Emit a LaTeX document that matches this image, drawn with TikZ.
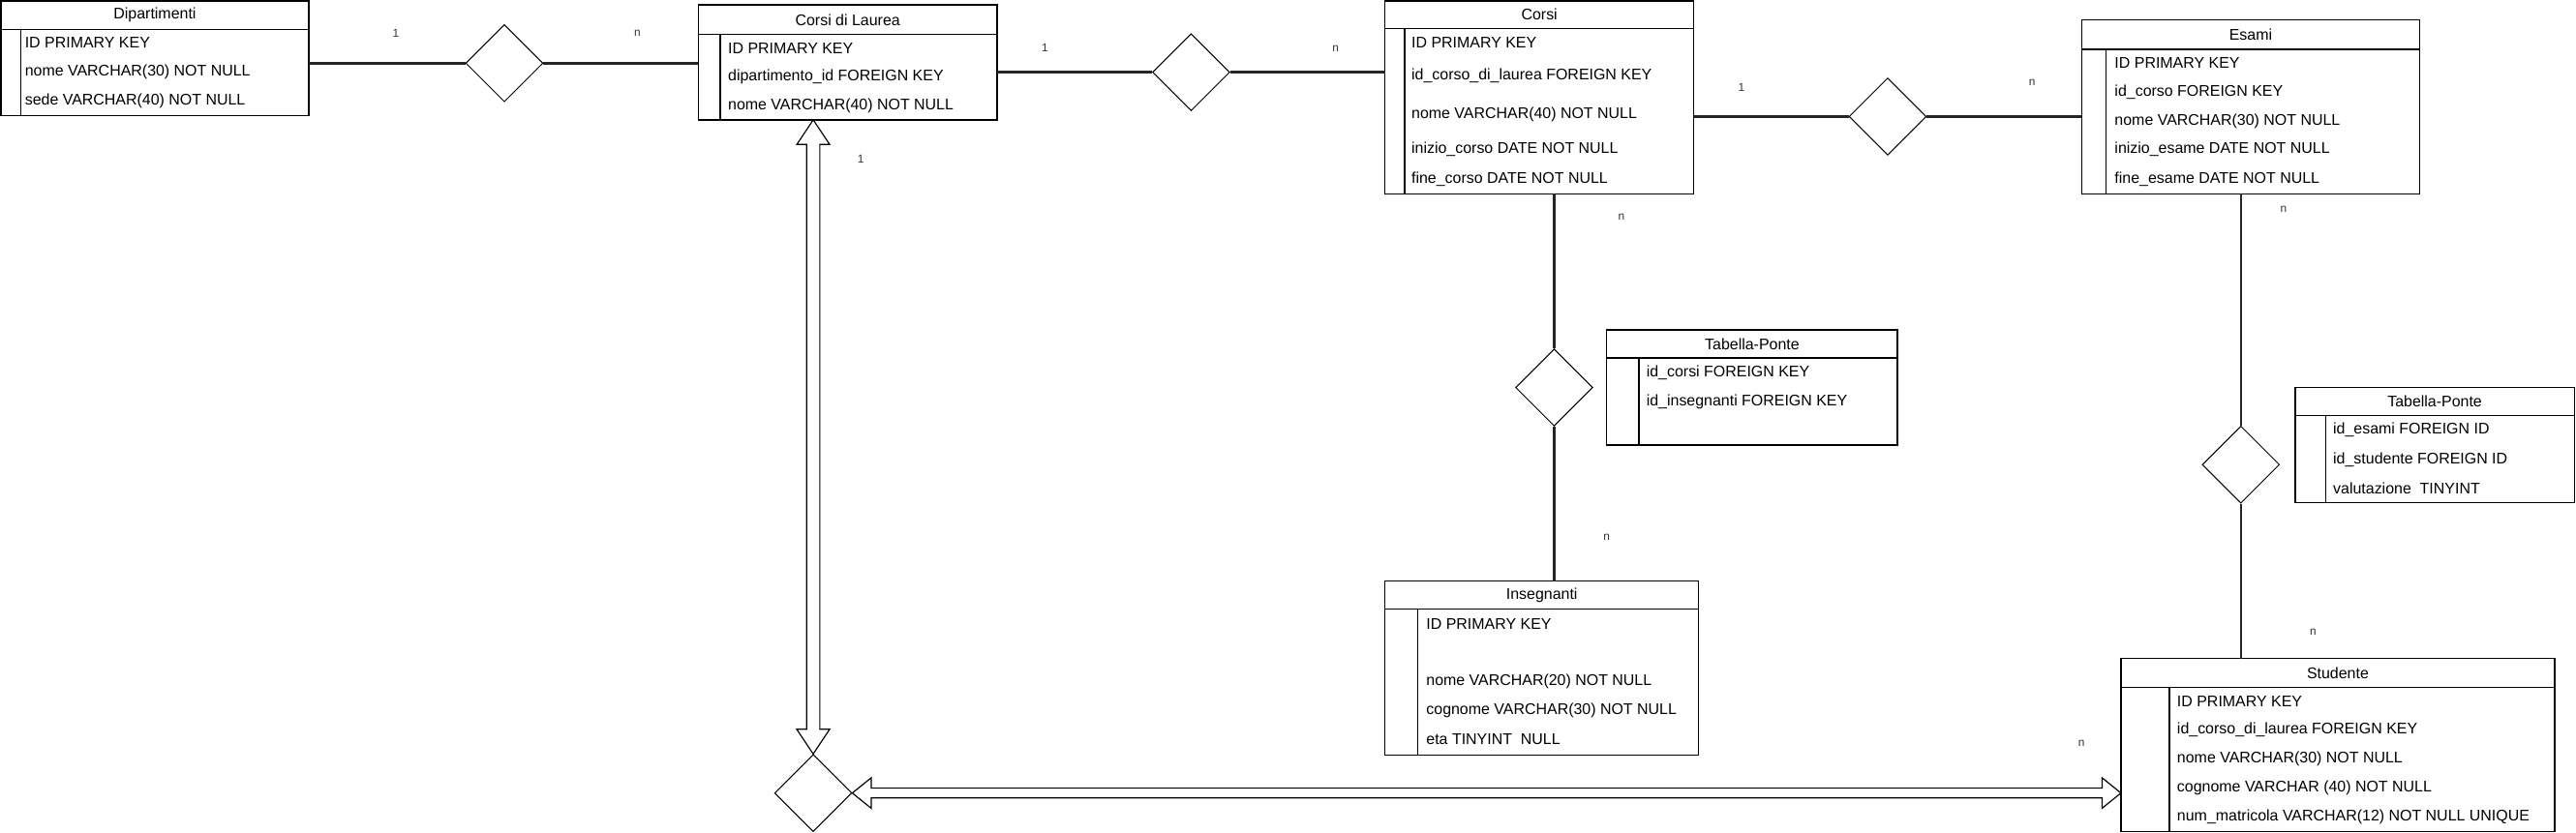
\documentclass[tikz,border=0pt]{standalone}
\usepackage{fontspec}
\setmainfont{Liberation Sans}
\usetikzlibrary{calc,shapes.geometric}
\tikzset{
  tbl/.style={draw, rectangle, line width=0.8pt, inner sep=0pt, outer sep=0pt, anchor=north west},
  tblline/.style={line width=0.8pt},
  ttl/.style={font=\fontsize{9.4}{11}\selectfont, inner sep=0pt},
  row/.style={font=\fontsize{9.4}{11}\selectfont, inner sep=0pt, anchor=west},
  conn/.style={line width=1.5pt, draw=black!85},
  dia/.style={diamond, draw, line width=0.6pt, inner sep=0pt, minimum width=47pt, minimum height=47pt},
  card/.style={font=\fontsize{7}{8}\selectfont, text=black!80, inner sep=0pt},
  flex/.style={draw, line width=0.7pt, fill=white, line join=miter}
}
\newcommand\ertab[8]{%
  \node[tbl, minimum width=#4pt, minimum height=#5pt] (#1) at (#2,#3) {};
  \coordinate (#1-hl) at ($(#1.north west)+(0pt,-#6pt)$);
  \coordinate (#1-hr) at ($(#1.north east)+(0pt,-#6pt)$);
  \draw[tblline] (#1-hl) -- (#1-hr);
  \draw[tblline] ($(#1-hl)+(#7pt,0pt)$) -- ($(#1.south west)+(#7pt,0pt)$);
  \node[ttl] (#1-title) at ($(#1.north)+(0pt,-#6pt/2)$) {#8};
}
\begin{document}
\begin{tikzpicture}[x=1pt,y=-1pt]
\useasboundingbox (0,0) rectangle (1568,507.35);

% ---- tables ----
\ertab{dip}{0.5}{0.5}{187.5}{70}{17.5}{12}{Dipartimenti}
\node[row] (dip-r1) at (15,26) {ID PRIMARY KEY};
\node[row] (dip-r2) at (15,44) {nome VARCHAR(30) NOT NULL};
\node[row] (dip-r3) at (15,61.5) {sede VARCHAR(40) NOT NULL};

\ertab{cdl}{425}{3}{182}{70}{18}{13.5}{Corsi di Laurea}
\node[row] (cdl-r1) at (443,29.5) {ID PRIMARY KEY};
\node[row] (cdl-r2) at (443,47) {dipartimento\_id FOREIGN KEY};
\node[row] (cdl-r3) at (443,64.5) {nome VARCHAR(40) NOT NULL};

\ertab{cor}{843}{0.5}{188}{117.5}{17}{12}{Corsi}
\node[row] (cor-r1) at (859,26) {ID PRIMARY KEY};
\node[row] (cor-r2) at (859,46) {id\_corso\_di\_laurea FOREIGN KEY};
\node[row] (cor-r3) at (859,70) {nome VARCHAR(40) NOT NULL};
\node[row] (cor-r4) at (859,91) {inizio\_corso DATE NOT NULL};
\node[row] (cor-r5) at (859,109) {fine\_corso DATE NOT NULL};

\ertab{esa}{1267}{12}{206}{106}{18}{15}{Esami}
\node[row] (esa-r1) at (1287,38.5) {ID PRIMARY KEY};
\node[row] (esa-r2) at (1287,56) {id\_corso FOREIGN KEY};
\node[row] (esa-r3) at (1287,74) {nome VARCHAR(30) NOT NULL};
\node[row] (esa-r4) at (1287,91) {inizio\_esame DATE NOT NULL};
\node[row] (esa-r5) at (1287,109) {fine\_esame DATE NOT NULL};

\ertab{tpa}{978}{201}{177}{70}{17}{19.5}{Tabella-Ponte}
\node[row] (tpa-r1) at (1002,227) {id\_corsi FOREIGN KEY};
\node[row] (tpa-r2) at (1002,244.5) {id\_insegnanti FOREIGN KEY};

\ertab{ins}{843}{354}{191}{106}{17}{20}{Insegnanti}
\node[row] (ins-r1) at (868,380) {ID PRIMARY KEY};
\node[row] (ins-r2) at (868,415) {nome VARCHAR(20) NOT NULL};
\node[row] (ins-r3) at (868,433) {cognome VARCHAR(30) NOT NULL};
\node[row] (ins-r4) at (868,450.5) {eta TINYINT\ \ NULL};

\ertab{tpb}{1397}{236}{170}{70}{17}{18.5}{Tabella-Ponte}
\node[row] (tpb-r1) at (1420,262) {id\_esami FOREIGN ID};
\node[row] (tpb-r2) at (1420,280) {id\_studente FOREIGN ID};
\node[row] (tpb-r3) at (1420,297.5) {valutazione\ \ TINYINT};

\ertab{stu}{1291}{401}{264}{105.5}{17.5}{29.5}{Studente}
\node[row] (stu-r1) at (1325,427) {ID PRIMARY KEY};
\node[row] (stu-r2) at (1325,444.5) {id\_corso\_di\_laurea FOREIGN KEY};
\node[row] (stu-r3) at (1325,462) {nome VARCHAR(30) NOT NULL};
\node[row] (stu-r4) at (1325,480) {cognome VARCHAR (40) NOT NULL};
\node[row] (stu-r5) at (1325,497.5) {num\_matricola VARCHAR(12) NOT NULL UNIQUE};

% ---- diamonds ----
\node[dia] (d1) at (307,38.5) {};
\node[dia] (d2) at (725,44) {};
\node[dia] (d3) at (1149,71) {};
\node[dia] (d4) at (946,236) {};
\node[dia] (d5) at (1364,283) {};
\node[dia] (d6) at (495,483) {};

% ---- connectors ----
\draw[conn] (d1.west -| dip.east) -- (d1.west);
\draw[conn] (d1.east) -- (d1.east -| cdl.west);
\draw[conn] (d2.west -| cdl.east) -- (d2.west);
\draw[conn] (d2.east) -- (d2.east -| cor.west);
\draw[conn] (d3.west -| cor.east) -- (d3.west);
\draw[conn] (d3.east) -- (d3.east -| esa.west);
\draw[conn] (d4.north |- cor.south) -- (d4.north);
\draw[conn] (d4.south) -- (d4.south |- ins.north);
\draw[conn] (d5.north |- esa.south) -- (d5.north);
\draw[conn] (d5.south) -- (d5.south |- stu.north);

% ---- flex arrows ----
\coordinate (vtop) at (d6.north |- cdl.south);
\draw[flex] (vtop) -- ++(10pt,-15pt) -- ++(-6pt,0pt)
  -- ($(d6.north)+(4pt,15pt)$) -- ++(6pt,0pt) -- (d6.north)
  -- ++(-10pt,15pt) -- ++(6pt,0pt)
  -- ($(vtop)+(-4pt,-15pt)$) -- ++(-6pt,0pt) -- cycle;
\coordinate (hend) at (d6.east -| stu.west);
\draw[flex] (d6.east) -- ++(11.5pt,9.3pt) -- ++(0pt,-6.3pt)
  -- ($(hend)+(-11.5pt,3pt)$) -- ++(0pt,6.3pt) -- (hend)
  -- ++(-11.5pt,-9.3pt) -- ++(0pt,6.3pt)
  -- ($(d6.east)+(11.5pt,-3pt)$) -- ++(0pt,-6.3pt) -- cycle;

% ---- cardinalities ----
\node[card] (c1) at (241,20) {1};
\node[card] (c2) at (388,20.5) {n};
\node[card] (c3) at (636,29) {1};
\node[card] (c4) at (813,29.5) {n};
\node[card] (c5) at (1060,53) {1};
\node[card] (c6) at (1237,50) {n};
\node[card] (c7) at (987,132) {n};
\node[card] (c8) at (978,327) {n};
\node[card] (c9) at (1390,127.5) {n};
\node[card] (c10) at (1408,385) {n};
\node[card] (c11) at (524,97) {1};
\node[card] (c12) at (1267,453) {n};
\end{tikzpicture}
\end{document}
